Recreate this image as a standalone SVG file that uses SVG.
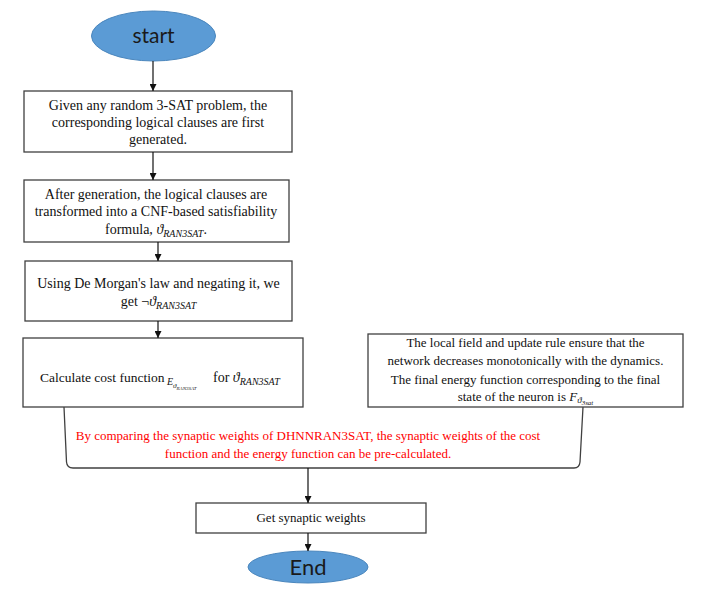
<svg xmlns="http://www.w3.org/2000/svg" width="705" height="591" viewBox="0 0 705 591">
<style>
.box{fill:#fff;stroke:#404040;stroke-width:1.3}
.term{fill:#5B9BD5;stroke:#4a86bd;stroke-width:1}
.t{font-family:"Liberation Serif","Times New Roman",serif;font-size:14px;fill:#111;text-anchor:middle}
.s{font-family:"Liberation Serif","Times New Roman",serif;font-size:14px;fill:#111;text-anchor:start}
.sm{font-size:13px}
.red{fill:#ff0000}
.m{font-style:italic}
.sub{font-size:10px;font-style:italic}
.tt{font-family:Lato,"Open Sans","Liberation Sans",sans-serif;fill:#1a1a1a;text-anchor:middle}
.c{fill:none;stroke:#111;stroke-width:1.2}
.br{fill:none;stroke:#404040;stroke-width:1.3}
</style>
<defs>
<marker id="ah" viewBox="0 0 10 10" refX="10" refY="5" markerWidth="7" markerHeight="7" orient="auto" markerUnits="userSpaceOnUse">
<path d="M0,0 L10,5 L0,10 z" fill="#111"/>
</marker>
</defs>
<rect width="705" height="591" fill="#fff"/>
<g id="start">
<ellipse class="term" cx="153.5" cy="36" rx="62" ry="25"/>
<text class="tt" x="153.5" y="43" font-size="21">start</text>
</g>
<g id="n1">
<rect class="box" x="24" y="91" width="268" height="61"/>
<text class="t" x="158" y="110">Given any random 3-SAT problem, the</text>
<text class="t" x="158" y="127">corresponding logical clauses are first</text>
<text class="t" x="158" y="144">generated.</text>
</g>
<g id="n2">
<rect class="box" x="24" y="180" width="265" height="62"/>
<text class="t" x="156" y="199">After generation, the logical clauses are</text>
<text class="t" x="156" y="216">transformed into a CNF-based satisfiability</text>
<text class="t" x="156" y="234">formula, <tspan class="m">ϑ</tspan><tspan class="sub" dy="3">RAN3SAT</tspan><tspan dy="-3">.</tspan></text>
</g>
<g id="n3">
<rect class="box" x="25" y="261" width="267" height="60"/>
<text class="t" x="158.5" y="288">Using De Morgan's law and negating it, we</text>
<text class="t" x="158.5" y="306">get ¬<tspan class="m">ϑ</tspan><tspan class="sub" dy="3">RAN3SAT</tspan></text>
</g>
<g id="n4">
<rect class="box" x="23" y="338" width="280" height="69"/>
<text class="s" x="40" y="382" font-size="13.5" style="font-size:13.5px">Calculate cost function</text>
<text class="s" x="167" y="385" style="font-size:10px"><tspan class="m">E</tspan><tspan style="font-size:7px" class="m" dy="3">ϑ</tspan><tspan style="font-size:5px" class="m" dy="2">RAN3SAT</tspan></text>
<text class="s" x="213" y="382">for <tspan class="m">ϑ</tspan><tspan class="sub" dy="3">RAN3SAT</tspan></text>
</g>
<g id="n5">
<rect class="box" x="368" y="334" width="315" height="73"/>
<text class="t sm" x="525.5" y="347">The local field and update rule ensure that the</text>
<text class="t sm" x="525.5" y="365">network decreases monotonically with the dynamics.</text>
<text class="t sm" x="525.5" y="384">The final energy function corresponding to the final</text>
<text class="t sm" x="525.5" y="401">state of the neuron is <tspan class="m">F</tspan><tspan font-size="9" class="m" dy="2">ϑ</tspan><tspan font-size="7" class="m" dy="2">3sat</tspan></text>
</g>
<g id="n6">
<path class="br" d="M64,407 L66.5,462 Q67,468 73,468 L574,468 Q579.5,468 580,462 L583,407"/>
<text class="t sm red" x="308" y="440">By comparing the synaptic weights of DHNNRAN3SAT, the synaptic weights of the cost</text>
<text class="t sm red" x="308" y="458">function and the energy function can be pre-calculated.</text>
</g>
<g id="n7">
<rect class="box" x="196" y="503" width="230" height="30"/>
<text class="t sm" x="311" y="522">Get synaptic weights</text>
</g>
<g id="end">
<ellipse class="term" cx="308" cy="567" rx="60" ry="16"/>
<text class="tt" x="308" y="575" font-size="22">End</text>
</g>
<g id="connectors">
<line class="c" x1="153" y1="61" x2="153" y2="91" marker-end="url(#ah)"/>
<line class="c" x1="153" y1="152" x2="153" y2="180" marker-end="url(#ah)"/>
<line class="c" x1="158" y1="242" x2="158" y2="261" marker-end="url(#ah)"/>
<line class="c" x1="158" y1="321" x2="158" y2="338" marker-end="url(#ah)"/>
<line class="c" x1="308" y1="468" x2="308" y2="503" marker-end="url(#ah)"/>
<line class="c" x1="308" y1="533" x2="308" y2="551" marker-end="url(#ah)"/>
</g>
</svg>
